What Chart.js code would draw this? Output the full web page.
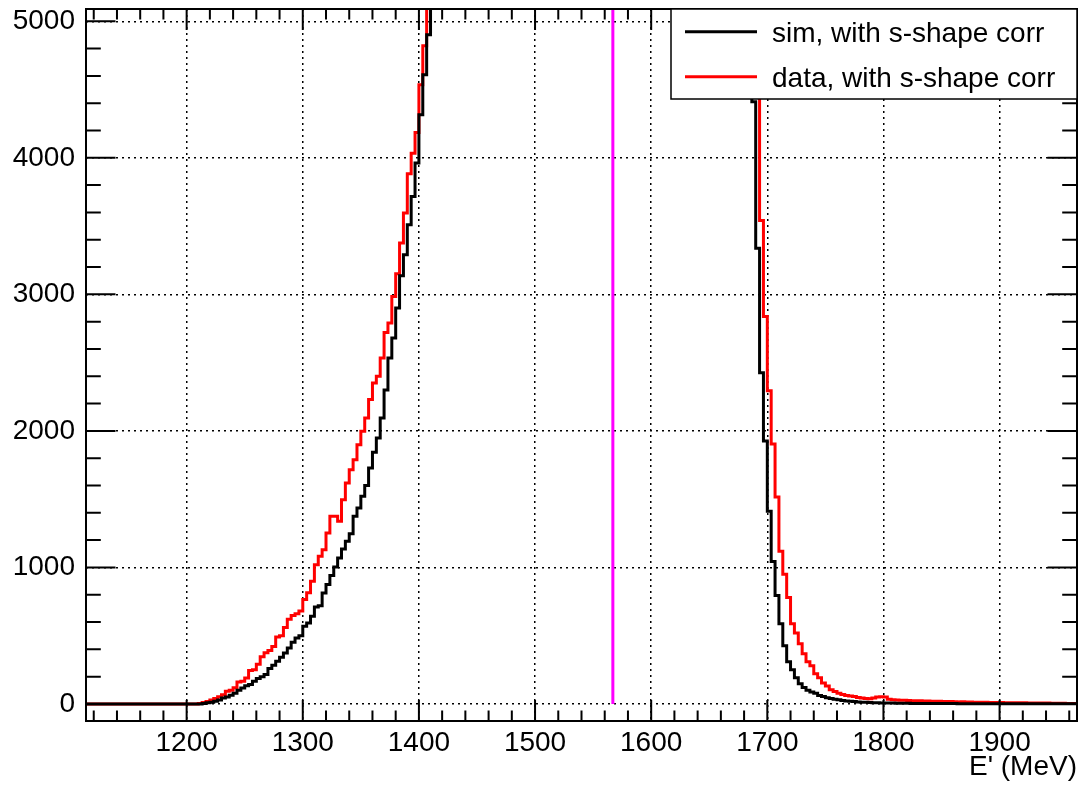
<!DOCTYPE html>
<html>
<head>
<meta charset="utf-8">
<script src="https://cdn.jsdelivr.net/npm/chart.js@4.4.1/dist/chart.umd.min.js"></script>
<style>
  html, body { margin: 0; padding: 0; background: #fff; }
  #wrap { width: 1081px; height: 786px; position: relative; }
</style>
</head>
<body>
<div id="wrap"><canvas id="hist"></canvas></div>
<script>
/* E' spectrum, sim vs data, ROOT look */

// binning: 10/3 MeV bins, shown range 1113.3 - 1966.7 MeV
const BIN_LO = 1000 + 34 * 10 / 3;
const BIN_W = 10 / 3;
const X_MIN = BIN_LO;
const X_MAX = 1000 + 290 * 10 / 3;
const Y_MIN = -125;
const Y_MAX = 5090;
const X_TICKS = [1200, 1300, 1400, 1500, 1600, 1700, 1800, 1900];
const Y_TICKS = [0, 1000, 2000, 3000, 4000, 5000];
const X_MINOR = 20, Y_MINOR = 200;
const CUT_E = 1567;                  // magenta cut line
const CUT_Y = [0, Y_MAX];

const LABELS = ['sim, with s-shape corr', 'data, with s-shape corr'];
const X_TITLE = "E' (MeV)";

// counts per bin (bins above the frame are estimates, they are clipped)
const simCounts = [
  0, 0, 0, 0, 0, 0, 0, 0, 0, 0, 0, 0, 0, 0, 0, 0, 0, 0, 0, 0,
  0, 0, 0, 0, 0, 0, 0, 0, 0, 0,
  3, 8, 12, 20, 29, 44, 51, 63, 78, 100,
  117, 134, 142, 166, 186, 200, 215, 259, 283, 312,
  342, 373, 410, 452, 483, 500, 569, 593, 642, 710,
  720, 813, 874, 940, 1003, 1069, 1135, 1191, 1247, 1374,
  1435, 1521, 1599, 1728, 1843, 1948, 2094, 2300, 2533, 2680,
  2900, 3136, 3290, 3510, 3717, 3962, 4315, 4608, 4901,
  5200, 5500, 5800, 6100, 6400, 6700, 7000, 7300, 7550, 7800,
  8050, 8300, 8500, 8700, 8900, 9100, 9250, 9400, 9550, 9700,
  9800, 9900, 10000, 10100, 10200, 10250, 10300, 10350, 10400, 10450,
  10500, 10550, 10600, 10650, 10700, 10750, 10800, 10850, 10900, 10950,
  11000, 11050, 11100, 11150, 11200, 11250, 11300, 11350, 11400, 11450,
  11500, 11550, 11600, 11650, 11700, 11750, 11800, 11850, 11900, 11950,
  12000, 12050, 12100, 12100, 12050, 12000, 11900, 11750, 11550, 11300,
  11000, 10600, 10100, 9500, 8800, 8000, 7200, 6500, 5900, 5600,
  5400, 5300, 5200,
  4410, 3338, 2426, 1926, 1412, 1044, 794, 588, 426, 309,
  250, 191, 147, 120, 100, 88, 78, 62, 55, 46,
  40, 35, 30, 26, 22, 19, 17, 15, 13, 12,
  10, 9, 8, 7,
  6, 6, 6, 5, 5, 5, 5, 4, 4, 4,
  4, 4, 3, 3, 3, 3, 3, 3, 3, 2,
  2, 2, 2, 2, 2, 2, 2, 2, 2, 2,
  2, 1, 1, 1, 1, 1, 1, 1, 1, 1,
  1, 1, 1, 1, 1, 1, 1, 1, 1, 1
];

const dataCounts = [
  0, 0, 0, 0, 0, 0, 0, 0, 0, 0, 0, 0, 0, 0, 0, 0, 0, 0, 0, 0,
  0, 0, 0, 0, 0, 0, 0, 0, 0,
  3, 10, 18, 28, 40, 52, 68, 92, 100, 118,
  160, 166, 190, 245, 250, 290, 345, 375, 392, 420,
  490, 500, 560, 620, 648, 660, 680, 765, 815, 898,
  1020, 1081, 1130, 1252, 1374, 1374, 1338, 1496, 1618, 1716,
  1789, 1899, 1997, 2094, 2229, 2351, 2400, 2533, 2721, 2790,
  2985, 3151, 3376, 3595, 3883, 4034, 4186, 4535, 4821,
  5200, 5400, 5700, 6000, 6300, 6600, 6900, 7200, 7450, 7700,
  7950, 8200, 8400, 8600, 8800, 9000, 9150, 9300, 9450, 9600,
  9700, 9800, 9900, 10000, 10100, 10150, 10200, 10250, 10300, 10350,
  10400, 10450, 10500, 10550, 10600, 10650, 10700, 10750, 10800, 10850,
  10900, 10950, 11000, 11050, 11100, 11150, 11200, 11250, 11300, 11350,
  11400, 11450, 11500, 11550, 11600, 11650, 11700, 11750, 11800, 11850,
  11900, 11950, 12000, 12000, 11950, 11900, 11800, 11650, 11450, 11200,
  10900, 10500, 10000, 9400, 8700, 7900, 7100, 6400, 5900, 5500,
  5350, 5300, 5250, 5200, 5200,
  4700,
  3540, 2838, 2294, 1903, 1515, 1118, 950, 779, 588, 520,
  441, 368, 309, 279, 221, 191, 153, 132, 103, 91,
  79, 70, 62, 58, 55, 48, 44, 40, 38, 44,
  50, 53, 50, 35, 30,
  28, 27, 27, 25, 24, 24, 23, 21, 22, 20,
  19, 20, 18, 17, 18, 16, 15, 16, 14, 14,
  13, 13, 12, 12, 11, 11, 10, 10, 9, 9,
  9, 8, 8, 8, 7, 7, 7, 6, 6, 6,
  5, 5, 5, 5, 4, 4, 4
];

const FONT = '"Liberation Sans", Arial, Helvetica, sans-serif';
const FONT_SIZE = 28;

// histogram -> step points at bin edges
function toSteps(counts) {
  const pts = counts.map((c, i) => ({ x: BIN_LO + i * BIN_W, y: c }));
  pts.push({ x: BIN_LO + counts.length * BIN_W, y: counts[counts.length - 1] });
  return pts;
}

// ROOT style frame with inward ticks on all four sides, plus the legend box
const rootFrame = {
  id: 'rootFrame',
  afterDatasetsDraw(chart) {
    const { ctx, chartArea: a, scales: { x, y } } = chart;
    ctx.save();
    ctx.strokeStyle = '#000';
    ctx.lineWidth = 2;
    ctx.beginPath();
    const xFirst = Math.ceil(x.min / X_MINOR) * X_MINOR;
    for (let v = xFirst; v <= x.max; v += X_MINOR) {
      const px = x.getPixelForValue(v);
      const len = X_TICKS.includes(v) ? 21 : 10.5;
      ctx.moveTo(px, a.bottom); ctx.lineTo(px, a.bottom - len);
      ctx.moveTo(px, a.top); ctx.lineTo(px, a.top + len);
    }
    const yFirst = Math.ceil(y.min / Y_MINOR) * Y_MINOR;
    for (let v = yFirst; v <= y.max; v += Y_MINOR) {
      const py = y.getPixelForValue(v);
      const len = Y_TICKS.includes(v) ? 29.5 : 14.8;
      ctx.moveTo(a.left, py); ctx.lineTo(a.left + len, py);
      ctx.moveTo(a.right, py); ctx.lineTo(a.right - len, py);
    }
    ctx.stroke();
    ctx.strokeRect(a.left, a.top, a.right - a.left, a.bottom - a.top);
    ctx.restore();
  },
  afterDraw(chart) {
    const { ctx, chartArea: a } = chart;
    const boxL = 671, boxT = a.top, boxR = a.right, boxB = 99;
    ctx.save();
    ctx.fillStyle = '#fff';
    ctx.fillRect(boxL, boxT, boxR - boxL, boxB - boxT);
    ctx.strokeStyle = '#000';
    ctx.lineWidth = 1.5;
    ctx.strokeRect(boxL, boxT, boxR - boxL, boxB - boxT);
    ctx.font = FONT_SIZE + 'px ' + FONT;
    ctx.textBaseline = 'alphabetic';
    ctx.textAlign = 'left';
    const rows = [31.7, 76.7];
    chart.data.datasets.slice(0, 2).forEach((ds, i) => {
      ctx.strokeStyle = ds.borderColor;
      ctx.lineWidth = 3;
      ctx.beginPath();
      ctx.moveTo(685, rows[i]);
      ctx.lineTo(757, rows[i]);
      ctx.stroke();
      ctx.fillStyle = '#000';
      ctx.fillText(ds.label, 772, rows[i] + 10.5);
    });
    ctx.restore();
  }
};

new Chart(document.getElementById('hist'), {
  type: 'line',
  data: {
    datasets: [
      {
        label: LABELS[0],
        data: toSteps(simCounts),
        borderColor: '#000000',
        borderWidth: 3,
        stepped: true,
        pointRadius: 0,
        fill: false,
        clip: 0
      },
      {
        label: LABELS[1],
        data: toSteps(dataCounts),
        borderColor: '#ff0000',
        borderWidth: 3,
        stepped: true,
        pointRadius: 0,
        fill: false,
        clip: 0
      },
      {
        label: 'cut',
        data: CUT_Y.map(v => ({ x: CUT_E, y: v })),
        borderColor: '#ff00ff',
        borderWidth: 3,
        pointRadius: 0,
        fill: false,
        clip: 0
      }
    ]
  },
  options: {
    responsive: true,
    maintainAspectRatio: false,
    animation: false,
    events: [],
    layout: { padding: { left: 0, right: 4, top: 9, bottom: 0 } },
    plugins: {
      legend: { display: false },
      tooltip: { enabled: false }
    },
    scales: {
      x: {
        type: 'linear',
        min: X_MIN,
        max: X_MAX,
        afterBuildTicks: s => { s.ticks = X_TICKS.map(v => ({ value: v })); },
        afterFit: s => { s.height = 65; s.paddingLeft = 0; s.paddingRight = 0; },
        ticks: {
          autoSkip: false,
          maxRotation: 0,
          padding: 5,
          color: '#000',
          font: { family: FONT, size: FONT_SIZE },
          callback: v => String(v)
        },
        grid: { color: '#000', lineWidth: 1.5, drawTicks: false },
        border: { display: false, dash: [2, 4] },
        title: {
          display: true,
          text: X_TITLE,
          align: 'end',
          color: '#000',
          font: { family: FONT, size: FONT_SIZE },
          padding: { top: 0, bottom: 2 }
        }
      },
      y: {
        type: 'linear',
        min: Y_MIN,
        max: Y_MAX,
        afterBuildTicks: s => { s.ticks = Y_TICKS.map(v => ({ value: v })); },
        afterFit: s => { s.width = 86; s.paddingTop = 0; s.paddingBottom = 0; },
        ticks: {
          autoSkip: false,
          padding: 11,
          color: '#000',
          font: { family: FONT, size: FONT_SIZE },
          callback: v => String(v)
        },
        grid: { color: '#000', lineWidth: 1.5, drawTicks: false },
        border: { display: false, dash: [2, 4] }
      }
    }
  },
  plugins: [rootFrame]
});
</script>
</body>
</html>
